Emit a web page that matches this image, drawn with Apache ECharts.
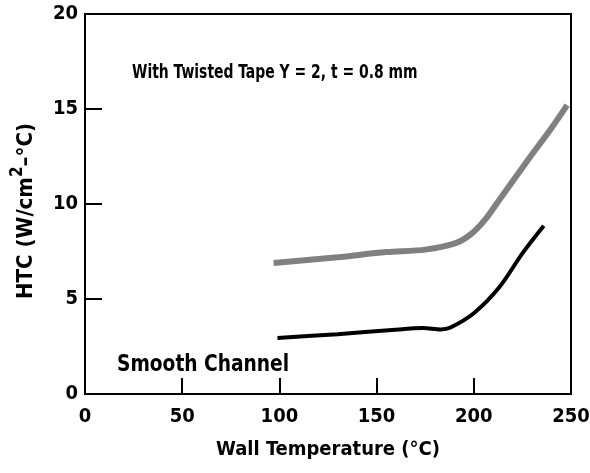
<!DOCTYPE html>
<html>
<head>
<meta charset="utf-8">
<script src="https://cdn.jsdelivr.net/npm/echarts@6/dist/echarts.min.js"></script>
<style>
  html, body { margin: 0; padding: 0; background: #fff; }
  #chart { width: 590px; height: 473px; }
</style>
</head>
<body>
<div id="chart"></div>
<script>
  // data
  var xTicks = [0, 50, 100, 150, 200, 250];
  var yTicks = [0, 5, 10, 15, 20];
  var twistedTemp = [97, 130, 155, 175, 191, 199, 206, 213, 227, 240, 248];
  var twistedHtc = [6.9, 7.2, 7.47, 7.6, 7.95, 8.45, 9.2, 10.2, 12.2, 14.0, 15.2];
  var smoothTemp = [99, 130, 158, 174, 183, 188, 200, 213, 225, 236];
  var smoothHtc = [2.95, 3.15, 3.37, 3.47, 3.4, 3.5, 4.25, 5.6, 7.4, 8.85];

  var font = '"DejaVu Sans Condensed", "Liberation Sans", sans-serif';
  var chart = echarts.init(document.getElementById('chart'));

  function pairs(xs, ys) {
    return xs.map(function (x, i) { return [x, ys[i]]; });
  }

  chart.setOption({
    animation: false,
    grid: {
      left: 85, right: 19, top: 14, bottom: 79,
      outerBoundsMode: 'none',
      show: true, borderColor: '#000', borderWidth: 2
    },
    // annotations, squeezed horizontally to look like the condensed face
    graphic: [
      {
        type: 'text', x: 132, y: 63, scaleX: 0.775,
        style: {
          text: 'With Twisted Tape Y = 2, t = 0.8 mm',
          fontFamily: font, fontWeight: 'bold', fontSize: 20, fill: '#000'
        }
      },
      {
        type: 'text', x: 117, y: 354, scaleX: 0.9,
        style: {
          text: 'Smooth Channel',
          fontFamily: font, fontWeight: 'bold', fontSize: 23, fill: '#000'
        }
      }
    ],
    xAxis: {
      type: 'value',
      min: xTicks[0], max: xTicks[xTicks.length - 1], interval: 50,
      name: 'Wall Temperature (°C)',
      nameLocation: 'middle', nameGap: 46,
      nameTextStyle: { fontFamily: font, fontWeight: 'bold', fontSize: 20, color: '#000' },
      axisLine: { lineStyle: { color: '#000', width: 2 } },
      axisTick: { inside: true, length: 16, lineStyle: { color: '#000', width: 2 } },
      axisLabel: { fontFamily: font, fontWeight: 'bold', fontSize: 20, color: '#000', margin: 13 },
      splitLine: { show: false }
    },
    yAxis: {
      type: 'value',
      min: yTicks[0], max: yTicks[yTicks.length - 1], interval: 5,
      name: 'HTC (W/cm{sup|2}–°C)',
      nameLocation: 'middle', nameGap: 42,
      nameTextStyle: {
        fontFamily: font, fontWeight: 'bold', fontSize: 22, color: '#000',
        padding: [0, 14, 0, 0],
        rich: {
          sup: { fontFamily: font, fontWeight: 'bold', fontSize: 17, color: '#000', verticalAlign: 'top', lineHeight: 34 }
        }
      },
      axisLine: { lineStyle: { color: '#000', width: 2 } },
      axisTick: { inside: true, length: 17, lineStyle: { color: '#000', width: 2 } },
      axisLabel: { fontFamily: font, fontWeight: 'bold', fontSize: 20, color: '#000', margin: 7 },
      splitLine: { show: false }
    },
    series: [
      {
        name: 'With Twisted Tape',
        type: 'line',
        smooth: 0.3,
        showSymbol: false,
        data: pairs(twistedTemp, twistedHtc),
        lineStyle: { color: '#808080', width: 6 }
      },
      {
        name: 'Smooth Channel',
        type: 'line',
        smooth: 0.3,
        showSymbol: false,
        data: pairs(smoothTemp, smoothHtc),
        lineStyle: { color: '#000', width: 4 }
      }
    ]
  });
</script>
</body>
</html>
